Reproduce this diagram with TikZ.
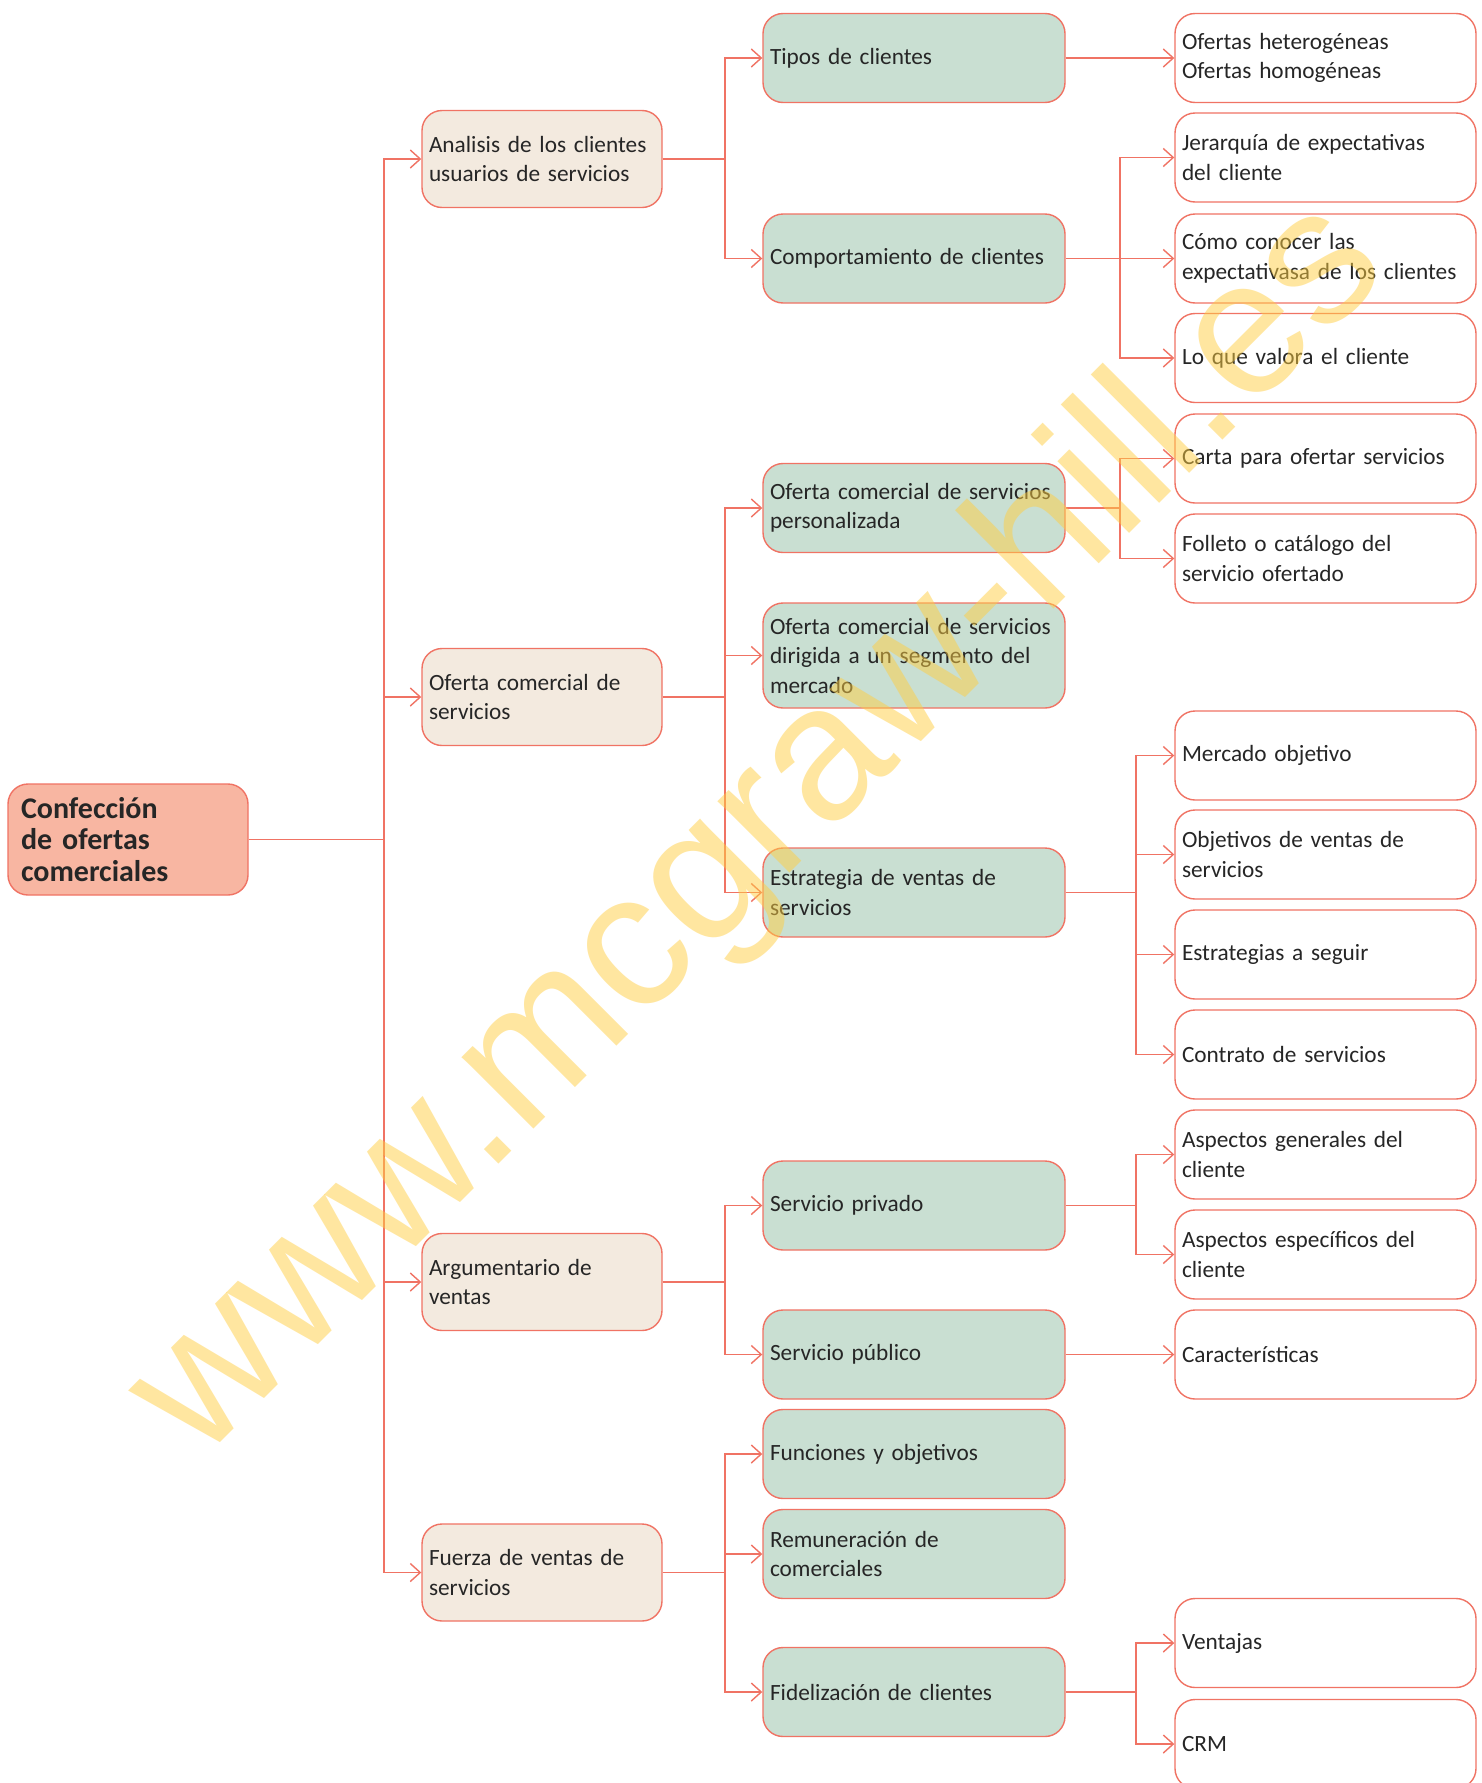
\documentclass[tikz,border=0pt]{standalone}
\usepackage{fontspec}
\setmainfont{Carlito}
\newfontfamily\wmfont{Liberation Sans}
\usetikzlibrary{arrows.meta}
\definecolor{brd}{RGB}{240,115,100}
\definecolor{rootc}{RGB}{248,182,162}
\definecolor{lonec}{RGB}{243,234,223}
\definecolor{ltwoc}{RGB}{201,223,210}
\definecolor{txtc}{RGB}{38,38,38}
\definecolor{wmc}{RGB}{255,206,66}
\hyphenpenalty=10000
\exhyphenpenalty=10000
\tikzset{
  box/.style={rectangle, rounded corners=20pt, draw=brd, line width=1.4pt,
    align=left, text=txtc, inner xsep=7pt, inner ysep=0pt,
    font=\fontsize{23.3}{29.5}\selectfont},
  rootbox/.style={box, fill=rootc, text width=214pt, minimum height=111pt,
    inner xsep=13pt, font=\bfseries\fontsize{30}{31.5}\selectfont},
  lone/.style={box, fill=lonec, text width=226pt, minimum height=97pt},
  ltwo/.style={box, fill=ltwoc, text width=288pt, minimum height=89pt},
  lthree/.style={box, fill=white, text width=287pt, minimum height=89pt},
  conn/.style={draw=brd, line width=1.4pt},
  arr/.style={conn, -{Straight Barb[length=10pt,width=18pt]}},
  wmark/.style={rotate=45, anchor=base west, inner sep=0pt, text=wmc, opacity=0.5,
    font=\wmfont\fontsize{192}{192}\selectfont},
}
\begin{document}
\begin{tikzpicture}[x=1pt,y=-1pt]
\clip (0,0) rectangle (1482,1783);
\fill[white] (0,0) rectangle (1482,1783);

% root
\node[rootbox] (root) at (128,839.5) {Confección\\de ofertas\\comerciales};

% level 1
\node[lone] (A1) at (542,159) {Analisis de los clientes\\usuarios de servicios};
\node[lone] (A2) at (542,697) {Oferta comercial de\\servicios};
\node[lone] (A3) at (542,1282) {Argumentario de\\ventas};
\node[lone] (A4) at (542,1572.5) {Fuerza de ventas de\\servicios};

% level 2
\node[ltwo] (B1) at (914,58) {Tipos de clientes};
\node[ltwo] (B2) at (914,258.5) {Comportamiento de clientes};
\node[ltwo] (B3) at (914,508) {Oferta comercial de servicios\\personalizada};
\node[ltwo, minimum height=105pt] (B4) at (914,655.5) {Oferta comercial de servicios\\dirigida a un segmento del\\mercado};
\node[ltwo] (B5) at (914,892.5) {Estrategia de ventas de\\servicios};
\node[ltwo] (B6) at (914,1205.5) {Servicio privado};
\node[ltwo] (B7) at (914,1354.5) {Servicio público};
\node[ltwo] (B8) at (914,1454) {Funciones y objetivos};
\node[ltwo] (B9) at (914,1554) {Remuneración de\\comerciales};
\node[ltwo] (B10) at (914,1692) {Fidelización de clientes};

% level 3
\node[lthree] (C1) at (1325.5,58) {Ofertas heterogéneas\\Ofertas homogéneas};
\node[lthree] (C2) at (1325.5,157.5) {Jerarquía de expectativas\\del cliente};
\node[lthree] (C3) at (1325.5,258.5) {Cómo conocer las\\expectativasa de los clientes};
\node[lthree] (C4) at (1325.5,358) {Lo que valora el cliente};
\node[lthree] (C5) at (1325.5,458.5) {Carta para ofertar servicios};
\node[lthree] (C6) at (1325.5,558.5) {Folleto o catálogo del\\servicio ofertado};
\node[lthree] (C7) at (1325.5,755.5) {Mercado objetivo};
\node[lthree] (C8) at (1325.5,854.5) {Objetivos de ventas de\\servicios};
\node[lthree] (C9) at (1325.5,954.5) {Estrategias a seguir};
\node[lthree] (C10) at (1325.5,1054.5) {Contrato de servicios};
\node[lthree] (C11) at (1325.5,1154.5) {Aspectos generales del\\cliente};
\node[lthree] (C12) at (1325.5,1254.5) {Aspectos específicos del\\cliente};
\node[lthree] (C13) at (1325.5,1354.5) {Características};
\node[lthree] (C14) at (1325.5,1643) {Ventajas};
\node[lthree] (C15) at (1325.5,1744) {CRM};

% junctions
\coordinate (t0) at (384,839.5);
\coordinate (j1) at (725,159);
\coordinate (j2) at (725,697);
\coordinate (j3) at (725,1282);
\coordinate (j4) at (725,1572.5);
\coordinate (k2) at (1120,258.5);
\coordinate (k3) at (1120,508);
\coordinate (k5) at (1136,892.5);
\coordinate (k6) at (1136,1205.5);
\coordinate (k10) at (1136,1692);

% root to level 1
\draw[conn] (root.east) -- (t0);
\foreach \n in {A1,A2,A3,A4} \draw[arr] (t0) |- (\n.west);

% level 1 to level 2
\draw[conn] (A1.east) -- (j1);
\draw[arr] (j1) |- (B1.west);
\draw[arr] (j1) |- (B2.west);
\draw[conn] (A2.east) -- (j2);
\draw[arr] (j2) |- (B3.west);
\draw[arr] (j2) |- (B4.west);
\draw[arr] (j2) |- (B5.west);
\draw[conn] (A3.east) -- (j3);
\draw[arr] (j3) |- (B6.west);
\draw[arr] (j3) |- (B7.west);
\draw[conn] (A4.east) -- (j4);
\draw[arr] (j4) |- (B8.west);
\draw[arr] (j4) |- (B9.west);
\draw[arr] (j4) |- (B10.west);

% level 2 to level 3
\draw[arr] (B1.east) -- (C1.west);
\draw[conn] (B2.east) -- (k2);
\draw[arr] (k2) |- (C2.west);
\draw[arr] (k2) |- (C3.west);
\draw[arr] (k2) |- (C4.west);
\draw[conn] (B3.east) -- (k3);
\draw[arr] (k3) |- (C5.west);
\draw[arr] (k3) |- (C6.west);
\draw[conn] (B5.east) -- (k5);
\draw[arr] (k5) |- (C7.west);
\draw[arr] (k5) |- (C8.west);
\draw[arr] (k5) |- (C9.west);
\draw[arr] (k5) |- (C10.west);
\draw[conn] (B6.east) -- (k6);
\draw[arr] (k6) |- (C11.west);
\draw[arr] (k6) |- (C12.west);
\draw[arr] (B7.east) -- (C13.west);
\draw[conn] (B10.east) -- (k10);
\draw[arr] (k10) |- (C14.west);
\draw[arr] (k10) |- (C15.west);

% watermark
\node[wmark] (wm) at (200,1463) {www.mcgraw-hill.es};
\end{tikzpicture}
\end{document}
